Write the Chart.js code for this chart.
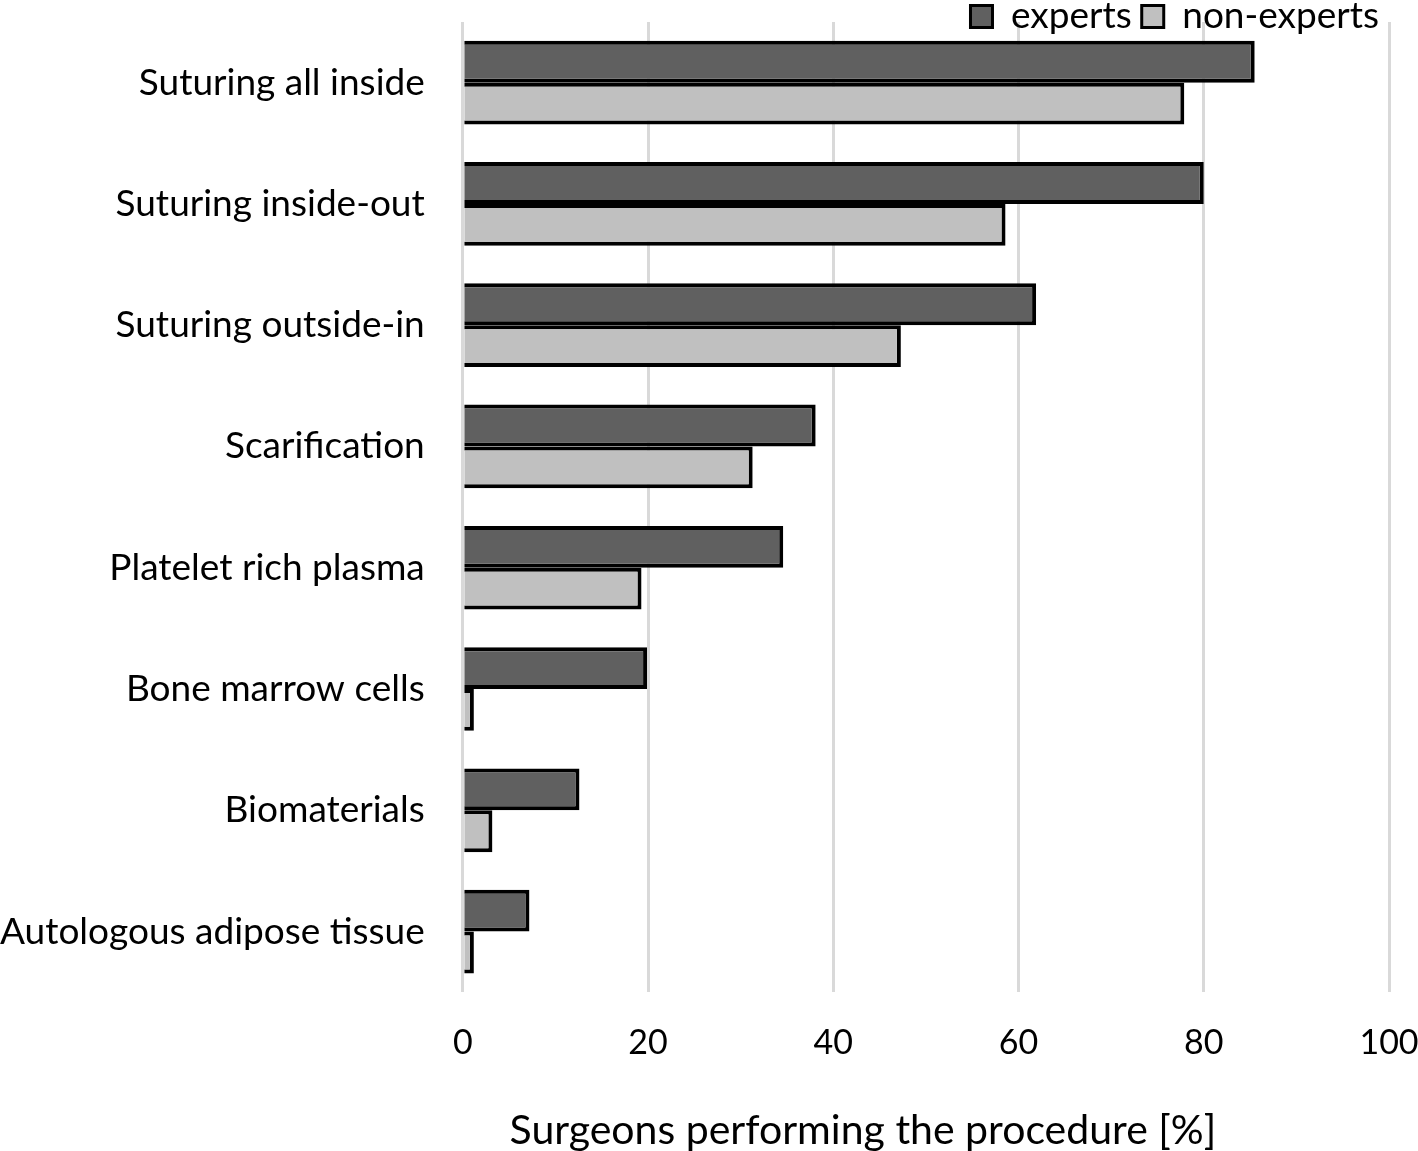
<!DOCTYPE html>
<html>
<head>
<meta charset="utf-8">
<script src="https://cdn.jsdelivr.net/npm/chart.js@4"></script>
<style>
  body { margin: 0; background: #fff; }
  #wrap { width: 1418px; height: 1151px; }
</style>
</head>
<body>
<div id="wrap"><canvas id="chart" width="1418" height="1151"></canvas></div>
<script>
const categories = [
  'Suturing all inside',
  'Suturing inside-out',
  'Suturing outside-in',
  'Scarification',
  'Platelet rich plasma',
  'Bone marrow cells',
  'Biomaterials',
  'Autologous adipose tissue'
];
const experts = [85.5, 80.0, 61.9, 38.1, 34.6, 19.9, 12.6, 7.2];
const nonExperts = [77.9, 58.6, 47.3, 31.3, 19.3, 1.2, 3.2, 1.2];
const xTicks = [0, 20, 40, 60, 80, 100];

const FONT = 'Lato, "Open Sans", sans-serif';

// short legend box that may overlap the top of the plot, without clipping
const tightLegend = {
  id: 'tightLegend',
  beforeLayout(chart) {
    const lg = chart.legend;
    if (lg && !lg._tight) {
      const fit = lg.fit;
      lg.fit = function () { fit.call(this); this.height = 34; };
      lg.draw = function () { if (this.options.display) this._draw(); };
      lg._tight = true;
    }
  }
};

const ctx = document.getElementById('chart').getContext('2d');
new Chart(ctx, {
  type: 'bar',
  data: {
    labels: categories,
    datasets: [
      {
        label: 'experts',
        data: experts,
        backgroundColor: '#606060',
        borderColor: '#000000',
        borderWidth: 4,
        barPercentage: 1.0,
        categoryPercentage: 0.69
      },
      {
        label: 'non-experts',
        data: nonExperts,
        backgroundColor: '#c0c0c0',
        borderColor: '#000000',
        borderWidth: 4,
        barPercentage: 1.0,
        categoryPercentage: 0.69
      }
    ]
  },
  plugins: [tightLegend],
  options: {
    indexAxis: 'y',
    responsive: false,
    animation: false,
    layout: { padding: { top: -12, right: 29, bottom: 0, left: 0 } },
    plugins: {
      tooltip: { enabled: false },
      legend: {
        position: 'top',
        align: 'end',
        labels: {
          boxWidth: 22,
          boxHeight: 22,
          padding: 10,
          color: '#000',
          font: { family: FONT, size: 37 },
          generateLabels: (chart) => chart.data.datasets.map((ds, i) => ({
            text: ds.label,
            fillStyle: ds.backgroundColor,
            strokeStyle: '#000',
            lineWidth: 3,
            datasetIndex: i
          }))
        }
      }
    },
    scales: {
      x: {
        min: 0,
        max: 100,
        afterBuildTicks: (axis) => { axis.ticks = xTicks.map(v => ({ value: v })); },
        afterFit: (axis) => {
          axis.paddingLeft = 0;
          axis.paddingRight = 0;
          axis.height -= axis.options.ticks.padding; // chart.js counts tick padding twice
        },
        grid: { color: '#d9d9d9', lineWidth: 3, drawTicks: false },
        border: { display: false },
        ticks: { color: '#000', font: { family: FONT, size: 34 }, padding: 30 },
        title: {
          display: true,
          // trailing spaces nudge the centred title left, as in the original
          text: 'Surgeons performing the procedure [%]' + '\u00a0'.repeat(12),
          color: '#000',
          font: { family: FONT, size: 41, lineHeight: 1.0 },
          padding: { top: 47, bottom: 0 }
        }
      },
      y: {
        afterFit: (axis) => {
          axis.paddingTop = 0;
          axis.paddingBottom = 0;
          axis.width -= axis.options.ticks.padding;
        },
        grid: { display: false, drawTicks: false },
        border: { display: false },
        ticks: { color: '#000', font: { family: FONT, size: 37 }, padding: 38 }
      }
    }
  }
});
</script>
</body>
</html>
